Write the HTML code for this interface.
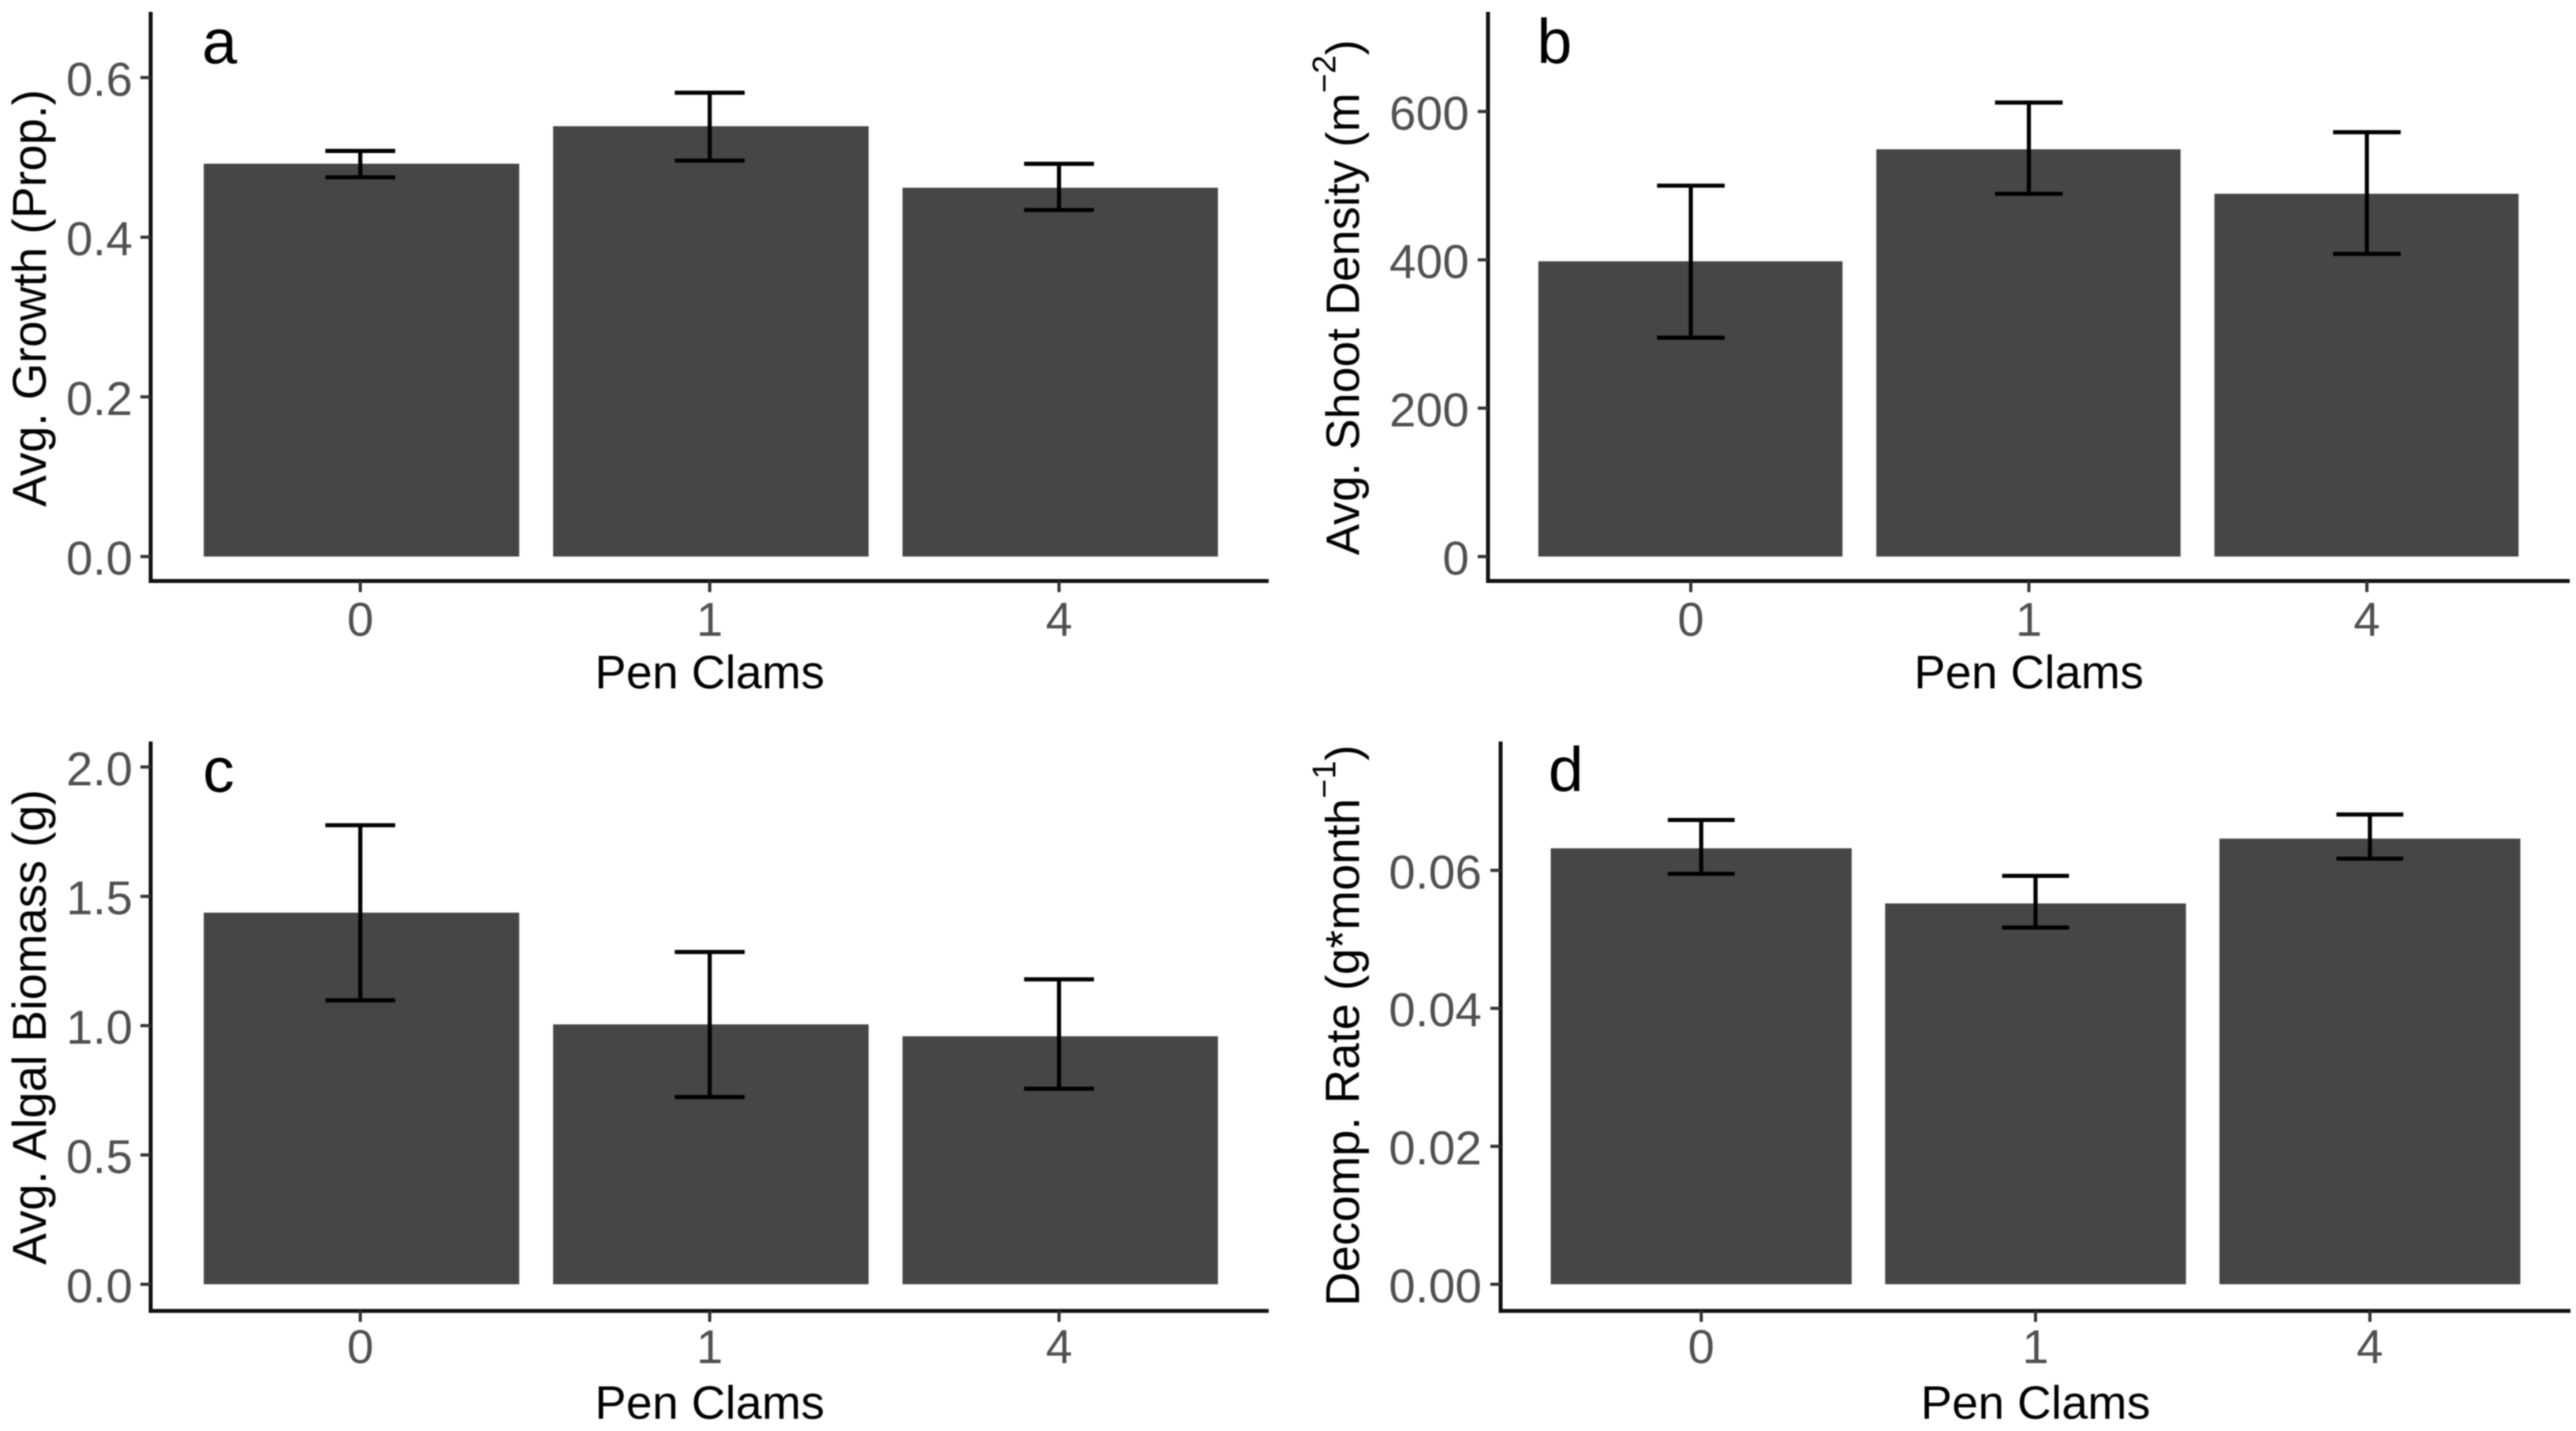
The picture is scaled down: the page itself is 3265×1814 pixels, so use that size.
<!DOCTYPE html>
<html lang="en">
<head>
<meta charset="utf-8">
<title>Seagrass metrics by pen clam density</title>
<style>
html,body{margin:0;padding:0;background:#fff;}
svg{display:block;font-family:"Liberation Sans",Arial,sans-serif;filter:blur(0.9px);}
</style>
</head>
<body>
<svg id="chart" xmlns="http://www.w3.org/2000/svg" width="3265" height="1814" viewBox="0 0 3265 1814"></svg>
<script>
const categories = ["0", "1", "4"];

const growthMeans = [0.492, 0.539, 0.462];
const growthUpper = [0.508, 0.581, 0.492];
const growthLower = [0.475, 0.496, 0.434];
const growthTicks = [0, 0.2, 0.4, 0.6];
const growthTickLabels = ["0.0", "0.2", "0.4", "0.6"];

const shootMeans = [398, 549, 489];
const shootUpper = [500, 612, 572];
const shootLower = [295, 489, 408];
const shootTicks = [0, 200, 400, 600];
const shootTickLabels = ["0", "200", "400", "600"];

const algalMeans = [1.437, 1.005, 0.959];
const algalUpper = [1.775, 1.285, 1.179];
const algalLower = [1.098, 0.724, 0.756];
const algalTicks = [0, 0.5, 1, 1.5, 2];
const algalTickLabels = ["0.0", "0.5", "1.0", "1.5", "2.0"];

const decompMeans = [0.0632, 0.0552, 0.0646];
const decompUpper = [0.0673, 0.0592, 0.0681];
const decompLower = [0.0595, 0.0517, 0.0617];
const decompTicks = [0, 0.02, 0.04, 0.06];
const decompTickLabels = ["0.00", "0.02", "0.04", "0.06"];

const NS = "http://www.w3.org/2000/svg";
const svg = document.getElementById("chart");

function make(parent, tag, attrs) {
  const el = document.createElementNS(NS, tag);
  for (const k in attrs) el.setAttribute(k, attrs[k]);
  parent.appendChild(el);
  return el;
}

const panels = [
  {id:"a", means:growthMeans, upper:growthUpper, lower:growthLower, ticks:growthTicks, labels:growthTickLabels,
   left:191, right:1608, top:15, bottom:736.5, zero:705.5, refValue:0.6, refY:98.3, barFrac:0.903, barShift:1.5,
   titleX:58, titleY:378, titleSize:60, tickBase:806, xTitleBase:872, letterX:256, letterY:80, labelGap:23,
   title:[["Avg. Growth (Prop.)"]]},
  {id:"b", means:shootMeans, upper:shootUpper, lower:shootLower, ticks:shootTicks, labels:shootTickLabels,
   left:1886, right:3257, top:15, bottom:736.5, zero:705.5, refValue:600, refY:141.3, barFrac:0.9, barShift:-0.5,
   titleX:1722.7, titleY:377, titleSize:59, tickBase:806, xTitleBase:872, letterX:1948, letterY:80, labelGap:24,
   title:[["Avg. Shoot Density (m"],["\u22122", true],[")"]]},
  {id:"c", means:algalMeans, upper:algalUpper, lower:algalLower, ticks:algalTicks, labels:algalTickLabels,
   left:191, right:1608, top:940, bottom:1661.7, zero:1628, refValue:2, refY:972.3, barFrac:0.903, barShift:1.5,
   titleX:58, titleY:1302, titleSize:60, tickBase:1728, xTitleBase:1798, letterX:257, letterY:1003.5, labelGap:23,
   title:[["Avg. Algal Biomass (g)"]]},
  {id:"d", means:decompMeans, upper:decompUpper, lower:decompLower, ticks:decompTicks, labels:decompTickLabels,
   left:1902, right:3258, top:940, bottom:1661.7, zero:1628, refValue:0.06, refY:1103.3, barFrac:0.9, barShift:0,
   titleX:1722.7, titleY:1300, titleSize:60, tickBase:1728, xTitleBase:1798, letterX:1962.5, letterY:1003, labelGap:24,
   title:[["Decomp. Rate (g*month"],["\u22121", true],[")"]]}
];

panels.forEach(function (p) {
  const g = make(svg, "g", {});
  
  

  const xScale = function (i) {
    return p.left + (i + 1 - 0.4) / 3.2 * (p.right - p.left);
  };
  const yScale = function (v) {
    return p.zero + (p.refY - p.zero) * v / p.refValue;
  };
  const band = (p.right - p.left) / 3.2;

  categories.forEach(function (cat, i) {
    const y = yScale(p.means[i]);
    const bar = make(g, "rect", {
      x: xScale(i) - band * p.barFrac / 2 + p.barShift, y: y, width: band * p.barFrac, height: yScale(0) - y, fill: "#464646"
    });
    
    
  });

  categories.forEach(function (cat, i) {
    const cx = xScale(i), hw = band * 0.1;
    const yU = yScale(p.upper[i]), yL = yScale(p.lower[i]);
    const eb = make(g, "path", {
      d: "M" + (cx - hw) + " " + yU + "H" + (cx + hw) + "M" + cx + " " + yU + "V" + yL + "M" + (cx - hw) + " " + yL + "H" + (cx + hw),
      fill: "none", stroke: "#000", "stroke-width": 5.2
    });
    
    
  });

  const yAxis = make(g, "path", {
    d: "M" + p.left + " " + p.top + "V" + p.bottom, fill: "none", stroke: "#111", "stroke-width": 5
  });
  
  

  const xAxis = make(g, "path", {
    d: "M" + (p.left - 2.5) + " " + p.bottom + "H" + p.right, fill: "none", stroke: "#111", "stroke-width": 5
  });
  
  

  p.ticks.forEach(function (v, i) {
    const y = yScale(v);
    const tick = make(g, "line", {
      x1: p.left - 13, x2: p.left, y1: y, y2: y, stroke: "#333", "stroke-width": 4
    });
    
    
    const label = make(g, "text", {
      x: p.left - p.labelGap, y: y + 23, "text-anchor": "end", "font-size": 60.5, fill: "#505050"
    });
    label.textContent = p.labels[i];
    
    
  });

  categories.forEach(function (cat, i) {
    const cx = xScale(i);
    const tick = make(g, "line", {
      x1: cx, x2: cx, y1: p.bottom, y2: p.bottom + 14, stroke: "#333", "stroke-width": 4
    });
    
    
    const label = make(g, "text", {
      x: cx, y: p.tickBase, "text-anchor": "middle", "font-size": 60.5, fill: "#505050"
    });
    label.textContent = cat;
    
    
  });

  const xTitle = make(g, "text", {
    x: (p.left + p.right) / 2, y: p.xTitleBase + 0.5, "text-anchor": "middle", "font-size": 59.5, fill: "#000"
  });
  xTitle.textContent = "Pen Clams";
  
  

  const yTitle = make(g, "text", {
    x: 0, y: 0, "text-anchor": "middle", "font-size": p.titleSize, fill: "#000",
    transform: "translate(" + p.titleX + " " + p.titleY + ") rotate(-90)"
  });
  
  
  p.title.forEach(function (part, idx) {
    const prev = idx > 0 && p.title[idx - 1][1];
    const attrs = {};
    if (part[1]) { attrs.dy = -30; attrs["font-size"] = 42; }
    else if (prev) { attrs.dy = 30; }
    const span = make(yTitle, "tspan", attrs);
    span.textContent = part[0];
  });

  const letter = make(g, "text", {
    x: p.letterX, y: p.letterY, "font-size": 80, fill: "#000"
  });
  letter.textContent = p.id;
  
  
});
</script>
</body>
</html>
